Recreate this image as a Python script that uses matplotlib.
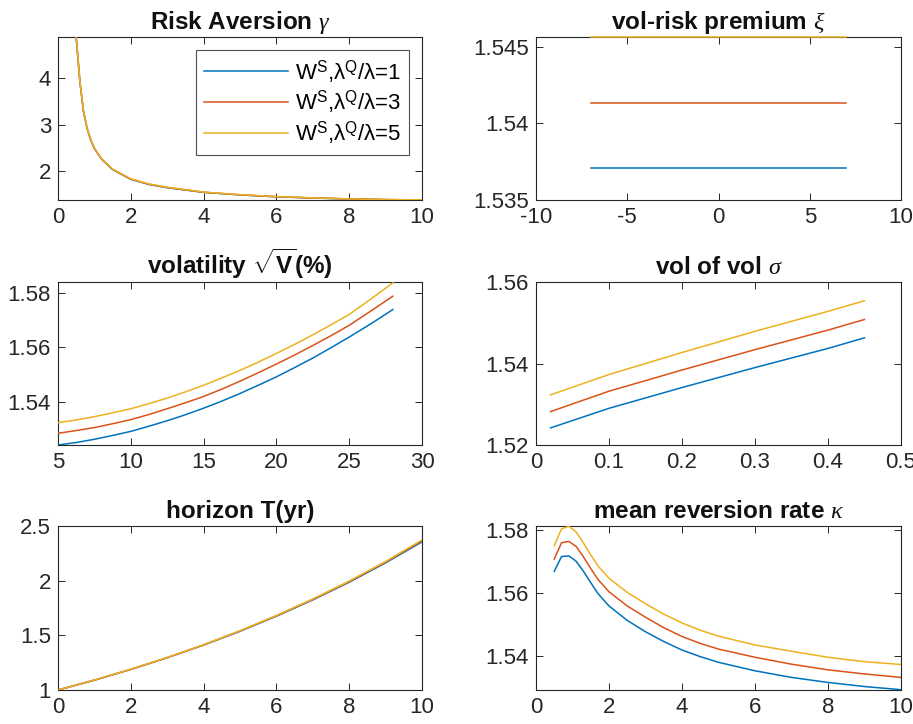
import matplotlib
matplotlib.use("Agg")
import matplotlib.pyplot as plt
from matplotlib.ticker import FuncFormatter

plt.rcParams['font.family'] = ['Liberation Sans', 'DejaVu Sans']
plt.rcParams['mathtext.fontset'] = 'custom'
plt.rcParams['mathtext.rm'] = 'Liberation Sans'
plt.rcParams['mathtext.it'] = 'Liberation Serif:italic'
plt.rcParams['mathtext.bf'] = 'Liberation Sans:bold'

colors = ['#0072BD', '#D95319', '#EDB120']
labels = [r'W$^{\rm S}$,λ$^{\rm Q}$/λ=1', r'W$^{\rm S}$,λ$^{\rm Q}$/λ=3', r'W$^{\rm S}$,λ$^{\rm Q}$/λ=5']

# Panel 1: risk aversion gamma
x_gamma = [0.5, 0.6, 0.7, 0.8, 0.9, 1.0, 1.2, 1.5, 2, 2.5, 3, 4, 5, 6, 7, 8, 9, 10]
gamma_1 = [4.88, 3.94, 3.29, 2.92, 2.67, 2.49, 2.26, 2.04, 1.83, 1.72, 1.65, 1.55, 1.495, 1.455, 1.428, 1.408, 1.394, 1.386]
gamma_3 = [4.885, 3.945, 3.295, 2.925, 2.675, 2.495, 2.265, 2.045, 1.835, 1.725, 1.655, 1.553, 1.497, 1.457, 1.430, 1.409, 1.395, 1.387]
gamma_5 = [4.89, 3.95, 3.30, 2.93, 2.68, 2.50, 2.27, 2.05, 1.84, 1.73, 1.66, 1.556, 1.50, 1.46, 1.432, 1.41, 1.396, 1.388]

# Panel 2: vol-risk premium xi
x_xi = [-7, 7]
xi_1 = [1.53711, 1.53711]
xi_3 = [1.54135, 1.54135]
xi_5 = [1.54565, 1.54565]

# Panel 3: volatility sqrt(V) (%)
x_vol = [5, 6.25, 7.5, 8.75, 10, 11.25, 12.5, 13.75, 15, 16.25, 17.5, 18.75, 20, 21.25, 22.5, 23.75, 25, 26.5, 28]
vol_1 = [1.5241, 1.5250, 1.5262, 1.5276, 1.5291, 1.5310, 1.5330, 1.5352, 1.5376, 1.5402, 1.5430, 1.5460, 1.5491, 1.5525, 1.5560, 1.5598, 1.5637, 1.5686, 1.5738]
vol_3 = [1.5284, 1.5294, 1.5305, 1.5319, 1.5334, 1.5353, 1.5374, 1.5396, 1.5419, 1.5446, 1.5475, 1.5506, 1.5538, 1.5571, 1.5606, 1.5642, 1.5680, 1.5733, 1.5787]
vol_5 = [1.5323, 1.5333, 1.5345, 1.5359, 1.5374, 1.5393, 1.5413, 1.5436, 1.5460, 1.5487, 1.5515, 1.5545, 1.5577, 1.5610, 1.5645, 1.5682, 1.5720, 1.5777, 1.5836]

# Panel 4: vol of vol sigma
x_sig = [0.02, 0.1, 0.2, 0.3, 0.4, 0.45]
sig_1 = [1.5242, 1.5290, 1.5341, 1.5390, 1.5437, 1.5463]
sig_3 = [1.5282, 1.5332, 1.5384, 1.5434, 1.5482, 1.5508]
sig_5 = [1.5323, 1.5373, 1.5427, 1.5479, 1.5528, 1.5554]

# Panel 5: horizon T (yr)
x_T = [0, 1, 2, 3, 4, 5, 6, 7, 8, 9, 10]
T_1 = [1.0, 1.090, 1.188, 1.295, 1.411, 1.537, 1.675, 1.824, 1.986, 2.163, 2.355]
T_3 = [1.0, 1.090, 1.189, 1.296, 1.413, 1.540, 1.679, 1.829, 1.992, 2.170, 2.365]
T_5 = [1.0, 1.091, 1.190, 1.297, 1.414, 1.542, 1.681, 1.832, 1.996, 2.175, 2.372]

# Panel 6: mean reversion rate kappa
x_kap = [0.5, 0.7, 0.9, 1.1, 1.3, 1.5, 1.7, 2, 2.5, 3, 3.5, 4, 4.5, 5, 6, 7, 8, 9, 10]
kap_1 = [1.5668, 1.5715, 1.5717, 1.5700, 1.5668, 1.5632, 1.5597, 1.5558, 1.5512, 1.5476, 1.5445, 1.5418, 1.5397, 1.5379, 1.5352, 1.5331, 1.5315, 1.5302, 1.5292]
kap_3 = [1.5707, 1.5759, 1.5763, 1.5747, 1.5714, 1.5677, 1.5642, 1.5603, 1.5558, 1.5522, 1.5489, 1.5461, 1.5439, 1.5421, 1.5395, 1.5373, 1.5355, 1.5342, 1.5331]
kap_5 = [1.5749, 1.5803, 1.5811, 1.5793, 1.5758, 1.5720, 1.5685, 1.5646, 1.5601, 1.5565, 1.5532, 1.5504, 1.5481, 1.5462, 1.5434, 1.5414, 1.5395, 1.5381, 1.5372]

fig = plt.figure(figsize=(9.13, 7.24), dpi=100)
W, H = 913, 724
def axrect(l, t, r, b):
    return [l / W, 1 - b / H, (r - l) / W, (b - t) / H]

cols = [(58, 422), (536, 901)]
rows = [(37, 200), (282, 445), (526, 690)]

panels = [
    (r'Risk Aversion $\gamma$', x_gamma, [gamma_1, gamma_3, gamma_5], (0, 10), (1.386, 4.89), [0, 2, 4, 6, 8, 10], [2, 3, 4]),
    (r'vol-risk premium $\xi$', x_xi, [xi_1, xi_3, xi_5], (-10, 10), (1.535, 1.54565), [-10, -5, 0, 5, 10], [1.535, 1.54, 1.545]),
    (r'volatility $\sqrt{\mathbf{V}}$(%)', x_vol, [vol_1, vol_3, vol_5], (5, 30), (1.5241, 1.5839), [5, 10, 15, 20, 25, 30], [1.54, 1.56, 1.58]),
    (r'vol of vol $\sigma$', x_sig, [sig_1, sig_3, sig_5], (0, 0.5), (1.52, 1.56), [0, 0.1, 0.2, 0.3, 0.4, 0.5], [1.52, 1.54, 1.56]),
    (r'horizon T(yr)', x_T, [T_1, T_3, T_5], (0, 10), (1, 2.5), [0, 2, 4, 6, 8, 10], [1, 1.5, 2, 2.5]),
    (r'mean reversion rate $\kappa$', x_kap, [kap_1, kap_3, kap_5], (0, 10), (1.5291, 1.5812), [0, 2, 4, 6, 8, 10], [1.54, 1.56, 1.58]),
]

fmt = FuncFormatter(lambda v, p: f'{v:g}')
axc = '#262626'
for i, (title, xs, ys, xl, yl, xt, yt) in enumerate(panels):
    r, c = divmod(i, 2)
    ax = fig.add_axes(axrect(cols[c][0], rows[r][0], cols[c][1], rows[r][1]))
    for y, col, lab in zip(ys, colors, labels):
        ax.plot(xs, y, color=col, lw=1.1, label=lab, clip_on=(i != 1), zorder=3)
    ax.set_xlim(*xl)
    ax.set_ylim(*yl)
    ax.set_xticks(xt)
    ax.set_yticks(yt)
    ax.xaxis.set_major_formatter(fmt)
    ax.yaxis.set_major_formatter(fmt)
    ax.tick_params(direction='in', length=5, width=0.7, colors=axc, labelsize=16,
                   top=True, right=True, pad=5)
    for s in ax.spines.values():
        s.set_color(axc)
        s.set_linewidth(0.8)
    ax.set_title(title, fontsize=17.5, fontweight='bold', color='#111111', pad=6)
    if i == 0:
        leg = ax.legend(loc='upper right', fontsize=16, frameon=True, fancybox=False,
                        edgecolor='#262626', handlelength=3.8, handletextpad=0.3,
                        labelspacing=0.15, borderpad=0.35, borderaxespad=0.6)
        leg.get_frame().set_linewidth(0.8)
        leg.set_zorder(5)

fig.savefig('out.png', dpi=100)
